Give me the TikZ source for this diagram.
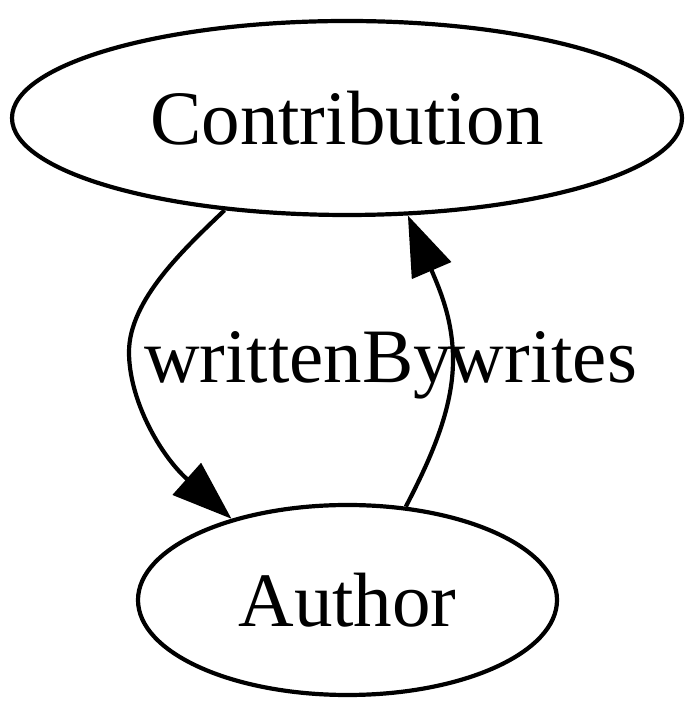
\documentclass[tikz,border=0pt]{standalone}
\usepackage{fontspec}
\setmainfont{Liberation Serif}
\usetikzlibrary{shapes.geometric,arrows.meta}
\begin{document}
\begin{tikzpicture}[x=1pt,y=1pt,
  gnode/.style={draw,ellipse,line width=4.2pt,inner sep=0pt,font=\fontsize{77}{92}\selectfont},
  gedge/.style={line width=4.2pt,-{Triangle[length=60pt,width=42pt]}},
  glabel/.style={anchor=base,inner sep=0pt,font=\fontsize{77}{92}\selectfont}]
\useasboundingbox (0,0) rectangle (700,722);
\node[gnode,minimum width=670pt,minimum height=194pt] (C) at (347,604) {Contribution};
\node[gnode,minimum width=419pt,minimum height=190pt] (A) at (347.5,122) {Author};
\draw[gedge] (C.217.2) .. controls (185,474) and (129,422) .. (129,370)
  .. controls (129,322) and (160,267) .. (A.145.3);
\draw[gedge] (A.58.2) .. controls (430,262) and (453,312) .. (453,362)
  .. controls (453,402) and (440,432) .. (C.302.2);
\node[glabel] (l1) at (298,339) {writtenBy};
\node[glabel] (l2) at (543,339) {writes};
\end{tikzpicture}
\end{document}
